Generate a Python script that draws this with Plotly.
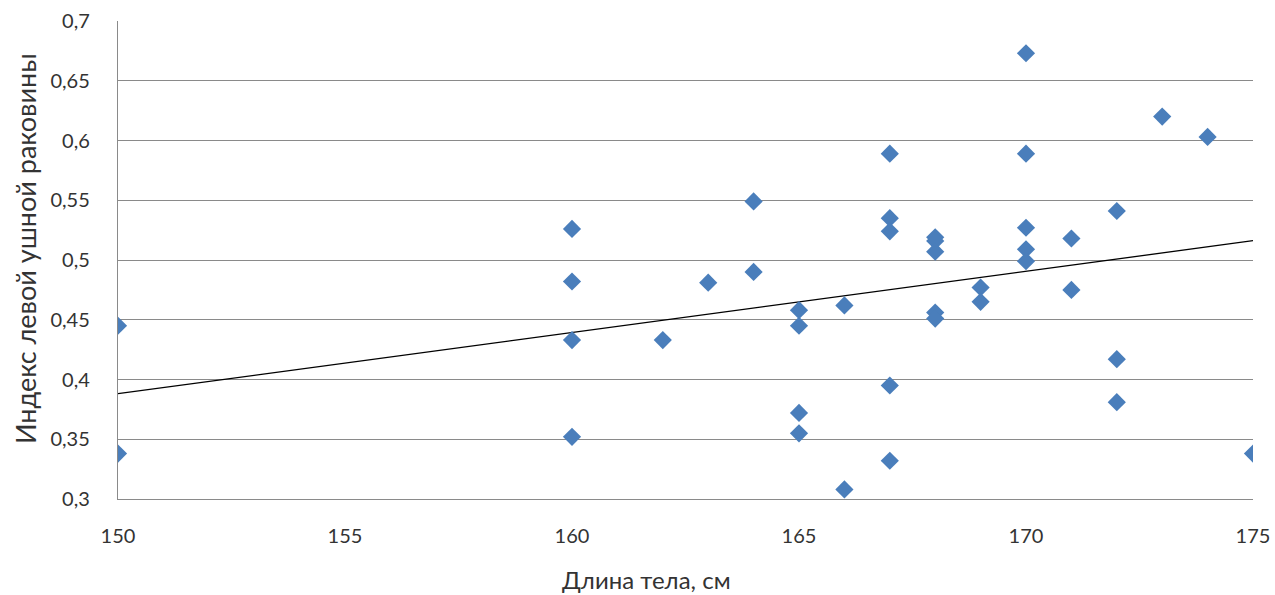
import numpy as np
import plotly.graph_objects as go

# Body length (cm) and left ear index for each subject
body_length = [
    150, 150,
    160, 160, 160, 160,
    162, 163,
    164, 164,
    165, 165, 165, 165,
    166, 166,
    167, 167, 167, 167, 167,
    168, 168, 168, 168, 168,
    169, 169,
    170, 170, 170, 170, 170,
    171, 171,
    172, 172, 172,
    173, 174, 175,
]
ear_index = [
    0.445, 0.338,
    0.526, 0.482, 0.433, 0.352,
    0.433, 0.481,
    0.549, 0.490,
    0.458, 0.445, 0.372, 0.355,
    0.462, 0.308,
    0.589, 0.535, 0.524, 0.395, 0.332,
    0.519, 0.516, 0.507, 0.456, 0.451,
    0.477, 0.465,
    0.673, 0.589, 0.527, 0.509, 0.499,
    0.518, 0.475,
    0.541, 0.417, 0.381,
    0.620, 0.603, 0.338,
]

x_ticks = [150, 155, 160, 165, 170, 175]
y_ticks = [0.3, 0.35, 0.4, 0.45, 0.5, 0.55, 0.6, 0.65, 0.7]

x_title = "Длина тела, см"
y_title = "Индекс левой ушной раковины"

# Linear trend fitted to the data
slope, intercept = np.polyfit(body_length, ear_index, 1)
trend_x = np.array([150, 175])
trend_y = slope * trend_x + intercept

grid_color = "#8a8a8a"
text_color = "#333333"
font_family = "Lato, 'Open Sans', sans-serif"

fig = go.Figure()
fig.add_trace(go.Scatter(
    x=trend_x, y=trend_y, mode="lines",
    line=dict(color="black", width=1.3),
    hoverinfo="skip", showlegend=False,
))
fig.add_trace(go.Scatter(
    x=body_length, y=ear_index, mode="markers",
    marker=dict(symbol="diamond", size=14, color="#4a7ebb"),
    showlegend=False,
))

fig.update_layout(
    width=1275, height=595,
    margin=dict(l=118, r=22, t=21, b=96),
    paper_bgcolor="white", plot_bgcolor="white",
    separators=", ",
    font=dict(family=font_family, size=20, color=text_color),
    xaxis=dict(
        range=[150, 175], tickvals=x_ticks,
        showgrid=False, zeroline=False, automargin=False,
        showline=True, linecolor=grid_color, linewidth=1.4,
        ticks="", ticklabelstandoff=19,
    ),
    yaxis=dict(
        range=[0.3, 0.7], tickvals=y_ticks,
        showgrid=True, gridcolor=grid_color, gridwidth=1.4,
        zeroline=False, automargin=False,
        showline=True, linecolor=grid_color, linewidth=1.4,
        ticks="", ticklabelstandoff=23,
    ),
    annotations=[
        dict(text=x_title, xref="paper", yref="paper", x=0.466, y=-0.169,
             xanchor="center", yanchor="middle", showarrow=False,
             font=dict(size=24, color=text_color)),
        dict(text=y_title, xref="paper", yref="paper", x=-0.0819, y=0.523,
             xanchor="center", yanchor="middle", showarrow=False, textangle=-90,
             font=dict(size=27, color=text_color)),
    ],
)

fig.write_html("out.html")
